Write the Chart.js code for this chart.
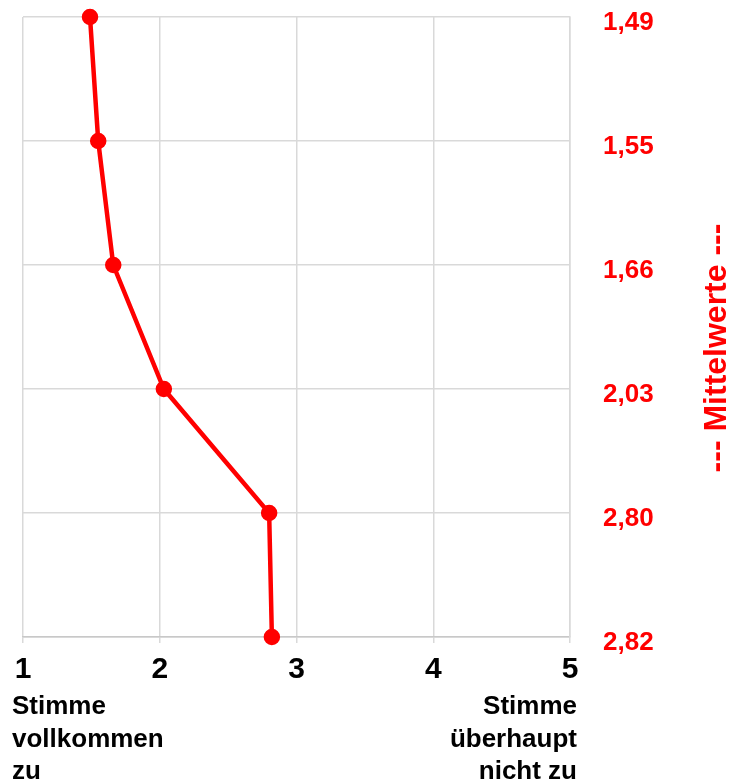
<!DOCTYPE html>
<html>
<head>
<meta charset="utf-8">
<script src="https://cdn.jsdelivr.net/npm/chart.js@4"></script>
<style>
  html, body { margin: 0; padding: 0; background: #fff; }
  #wrap { width: 732px; height: 781px; }
</style>
</head>
<body>
<div id="wrap"><canvas id="meanChart"></canvas></div>
<script>
const meanValues = [1.49, 1.55, 1.66, 2.03, 2.80, 2.82];
const meanLabels = ['1,49', '1,55', '1,66', '2,03', '2,80', '2,82'];
const scaleTicks = [1, 2, 3, 4, 5];
const leftAnchor = ['Stimme', 'vollkommen', 'zu'];
const rightAnchor = ['Stimme', 'überhaupt', 'nicht zu'];
const sideTitle = '--- Mittelwerte ---';

const fontFamily = '"Liberation Sans", Arial, sans-serif';

// draws the anchor texts under the axis and the rotated title on the right
const extraTexts = {
  id: 'extraTexts',
  afterDraw(chart) {
    const ctx = chart.ctx;
    const xScale = chart.scales.x;
    ctx.save();
    ctx.fillStyle = '#000';
    ctx.font = 'bold 26px ' + fontFamily;
    ctx.textBaseline = 'middle';
    const startY = xScale.bottom + 25;
    const lineH = 32.5;
    ctx.textAlign = 'left';
    leftAnchor.forEach(function (line, i) {
      ctx.fillText(line, 12, startY + i * lineH);
    });
    ctx.textAlign = 'right';
    const rightX = xScale.getPixelForValue(5) + 7;
    rightAnchor.forEach(function (line, i) {
      ctx.fillText(line, rightX, startY + i * lineH);
    });

    ctx.fillStyle = '#ff0000';
    ctx.font = 'bold 32px ' + fontFamily;
    ctx.textAlign = 'center';
    ctx.translate(717, 348);
    ctx.rotate(-Math.PI / 2);
    ctx.fillText(sideTitle, 0, 0);
    ctx.restore();
  }
};

new Chart(document.getElementById('meanChart'), {
  type: 'line',
  data: {
    labels: meanLabels,
    datasets: [{
      data: meanValues,
      borderColor: '#ff0000',
      backgroundColor: '#ff0000',
      borderWidth: 4.5,
      pointRadius: 6,
      pointHoverRadius: 6,
      tension: 0
    }]
  },
  options: {
    indexAxis: 'y',
    responsive: true,
    maintainAspectRatio: false,
    animation: false,
    layout: {
      autoPadding: false,
      padding: { top: 17, left: 23, right: 70, bottom: 99 }
    },
    plugins: {
      legend: { display: false },
      tooltip: { enabled: false }
    },
    scales: {
      x: {
        type: 'linear',
        min: 1,
        max: 5,
        afterBuildTicks: function (axis) {
          axis.ticks = scaleTicks.map(function (v) { return { value: v }; });
        },
        afterFit: function (axis) {
          axis.height = 45;
        },
        grid: {
          color: '#d9d9d9',
          lineWidth: 1.5,
          tickLength: 6
        },
        border: { color: '#c8c8c8', width: 1.5 },
        ticks: {
          color: '#000',
          padding: 9,
          maxRotation: 0,
          font: { family: fontFamily, size: 30, weight: 'bold' }
        }
      },
      y: {
        type: 'category',
        position: 'right',
        offset: false,
        afterFit: function (axis) {
          axis.width = 92;
        },
        grid: {
          color: '#d9d9d9',
          lineWidth: 1.5,
          tickLength: 32,
          tickColor: 'rgba(0,0,0,0)'
        },
        border: { color: '#d9d9d9', width: 1.5 },
        ticks: {
          color: '#ff0000',
          padding: 1,
          labelOffset: 6,
          font: { family: fontFamily, size: 26, weight: 'bold' }
        }
      }
    }
  },
  plugins: [extraTexts]
});
</script>
</body>
</html>
